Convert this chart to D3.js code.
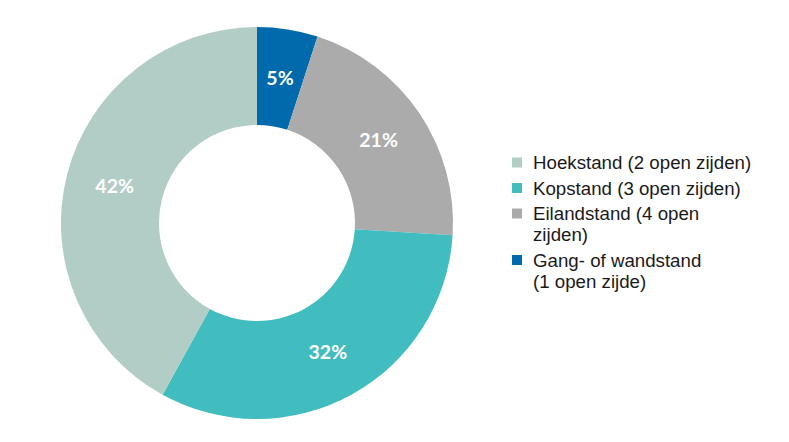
<!DOCTYPE html>
<html><head><meta charset="utf-8">
<script src="https://cdn.jsdelivr.net/npm/d3@7"></script>
<style>body{margin:0;background:#fff}svg{display:block}</style>
</head><body>
<svg id="c" width="789" height="442"></svg>
<script>
// pie order (clockwise from 12 o'clock)
const sliceNames = ["Gang- of wandstand (1 open zijde)", "Eilandstand (4 open zijden)", "Kopstand (3 open zijden)", "Hoekstand (2 open zijden)"];
const sliceValues = [5, 21, 32, 42];
const sliceColors = ["#006aad", "#ababab", "#41bdbf", "#b2cdc6"];
// legend order
const legendNames = ["Hoekstand (2 open zijden)", "Kopstand (3 open zijden)", "Eilandstand (4 open zijden)", "Gang- of wandstand (1 open zijde)"];
const legendLines = [["Hoekstand (2 open zijden)"], ["Kopstand (3 open zijden)"], ["Eilandstand (4 open", "zijden)"], ["Gang- of wandstand", "(1 open zijde)"]];

const svg = d3.select("#c");
const cx = 257, cy = 223, R = 196, r = 98;
const color = d3.scaleOrdinal().domain(sliceNames).range(sliceColors);
const data = sliceNames.map((n, i) => ({name: n, value: sliceValues[i]}));
const pie = d3.pie().value(d => d.value).sort(null);
const arc = d3.arc().innerRadius(r).outerRadius(R);
const g = svg.append("g").attr("transform", `translate(${cx},${cy})`);
const arcs = pie(data);
g.selectAll("path").data(arcs).join("path")
  .attr("d", arc).attr("fill", d => color(d.data.name));
g.selectAll("text").data(arcs).join("text")
  .attr("transform", d => `translate(${arc.centroid(d)})`)
  .attr("text-anchor", "middle").attr("dy", "0.36em")
  .attr("fill", "#fff").attr("font-family", "Lato, 'DejaVu Sans', sans-serif")
  .attr("font-weight", "bold").attr("font-size", 19.5)
  .text(d => d.data.value + "%");

// legend
const lg = svg.append("g").attr("font-family", "'Liberation Sans', Arial, sans-serif").attr("font-size", 18.7).attr("fill", "#1a1a1a");
const baselines = [169, 194.5, 220, 266.5];
legendNames.forEach((n, i) => {
  lg.append("rect").attr("x", 512).attr("y", baselines[i] - 11.5).attr("width", 10).attr("height", 10).attr("fill", color(n));
  legendLines[i].forEach((line, j) => {
    lg.append("text").attr("x", 533).attr("y", baselines[i] + j * 21).text(line);
  });
});
</script>
</body></html>
